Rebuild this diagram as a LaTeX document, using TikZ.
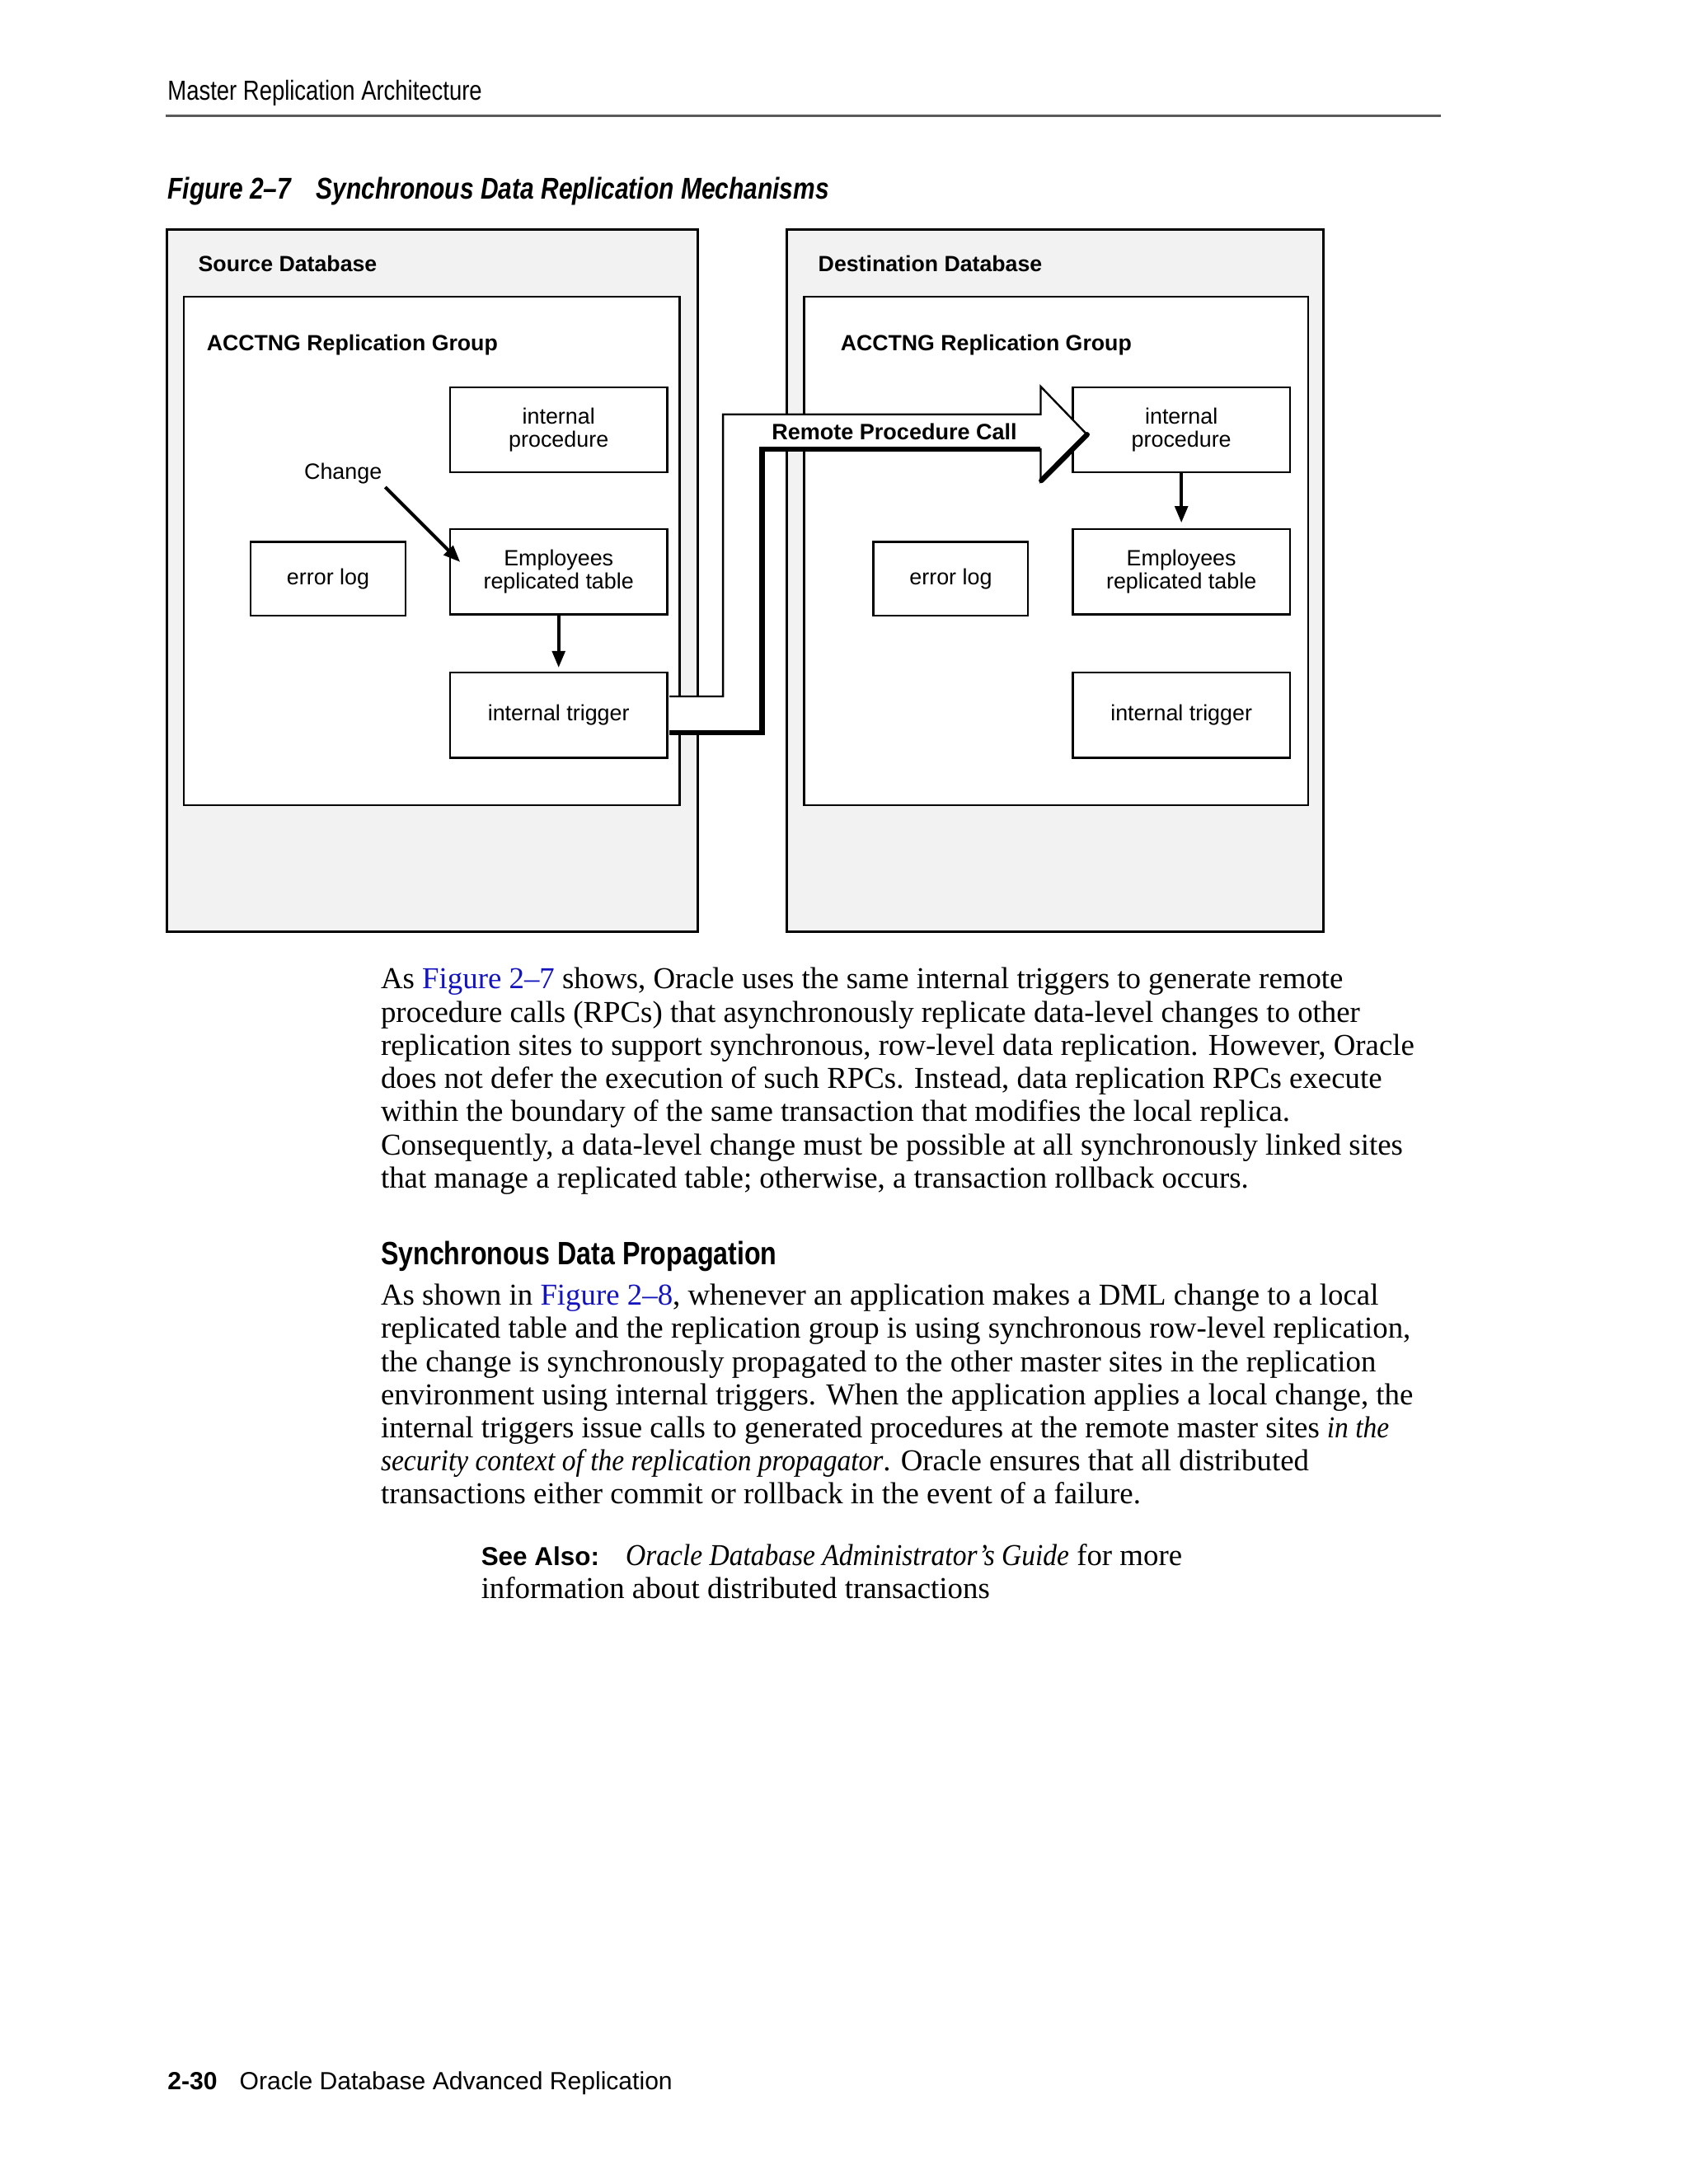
\documentclass[tikz,border=0pt]{standalone}
\usepackage{fontspec}
\setmainfont{Liberation Serif}[ItalicFeatures={FakeStretch=0.91}]
\setsansfont{Liberation Sans}
\newfontfamily\narrowsans[FakeStretch=0.82]{Liberation Sans}
\usetikzlibrary{arrows.meta,calc}
\definecolor{dbgray}{RGB}{242,242,242}
\definecolor{linkblue}{RGB}{20,20,190}
\definecolor{rulegray}{RGB}{90,90,90}

\begin{document}
\begin{tikzpicture}[x=0.5pt,y=-0.5pt,
  dbbox/.style={draw,line width=0.9pt,fill=dbgray},
  grpbox/.style={draw,line width=0.8pt,fill=white},
  objbox/.style={draw,line width=0.7pt,fill=white,inner sep=0pt,align=center,
    minimum width=78pt,minimum height=30.5pt,font=\sffamily\fontsize{7.95}{8.2}\selectfont},
  logbox/.style={objbox,minimum width=55.5pt,minimum height=26.5pt},
  dblabel/.style={anchor=base west,inner sep=0pt,font=\sffamily\bfseries\fontsize{7.9}{9.6}\selectfont},
  flowarrow/.style={line width=1.2pt,-{Triangle[length=6pt,width=4.6pt]}},
  rpcthin/.style={line width=0.7pt,line join=miter},
  rpcthick/.style={line width=1.9pt},
  bodytext/.style={anchor=base west,inner sep=0pt,align=left,font=\fontsize{10.9}{11.9}\selectfont}
]
% page frame
\fill[white] (0,0) rectangle (1212,1568);
\useasboundingbox (0,0) rectangle (1212,1568);

% Running head and rule
\node[anchor=base west,inner sep=0pt,font=\narrowsans\fontsize{9.9}{12}\selectfont] (runhead) at (120,72) {Master Replication Architecture};
\draw[rulegray,line width=0.8pt] (119,83) -- (1034,83);

% Figure caption
\node[anchor=base west,inner sep=0pt,font=\narrowsans\bfseries\itshape\fontsize{10.8}{13}\selectfont] (figcap) at (120,143) {Figure 2–7\hspace{9pt}Synchronous Data Replication Mechanisms};

% Drawing source database
\draw[dbbox] (120,165) rectangle (501,669);
\node[dblabel] (srcdb) at (142,195) {Source Database};
\draw[grpbox] (132,213) rectangle (488,578);
\node[dblabel] (srcgrp) at (148,252) {ACCTNG Replication Group};

% Drawing destination database
\draw[dbbox] (565,165) rectangle (950,669);
\node[dblabel] (dstdb) at (587,195) {Destination Database};
\draw[grpbox] (577,213) rectangle (939,578);
\node[dblabel] (dstgrp) at (603,252) {ACCTNG Replication Group};

% Objects of source group
\node[objbox] (srcproc) at (401,308.5) {internal\\procedure};
\node[logbox] (srcerr) at (235.5,415.5) {error log};
\node[objbox] (srcemp) at (401,410.5) {Employees\\replicated table};
\node[objbox] (srctrig) at (401,513.5) {internal trigger};

% Objects of destination group
\node[objbox] (dstproc) at (848,308.5) {internal\\procedure};
\node[logbox] (dsterr) at (682.5,415.5) {error log};
\node[objbox] (dstemp) at (848,410.5) {Employees\\replicated table};
\node[objbox] (dsttrig) at (848,513.5) {internal trigger};

% Change arrow
\node[anchor=base west,inner sep=1pt,font=\sffamily\fontsize{7.95}{9.6}\selectfont] (chg) at (216,344) {Change};
\draw[flowarrow] (chg.south east) -- ($(srcemp.west)+(4pt,3.5pt)$);

% Local flow arrows
\draw[flowarrow,shorten >=1.5pt] (srcemp) -- (srctrig);
\draw[flowarrow,shorten >=2pt] (dstproc) -- (dstemp);

% Drawing remote procedure call arrow
\coordinate (rpcA) at ($(srctrig.east)+(0.4pt,6.75pt)$);
\coordinate (rpcK) at ($(srctrig.east)+(0.4pt,-6.25pt)$);
\coordinate (rpctip) at ($(dstproc.west)+(5.5pt,-1.75pt)$);
\filldraw[fill=white,rpcthin] (rpcA) -- (519,500) -- (519,297.5) -- (747,297.5) -- (747,277.5)
  -- (rpctip) -- (747,345.5) -- (747,322.5) -- (547,322.5) -- (547,526) -- (rpcK);
\draw[rpcthick] (747,322.5) -- (547,322.5) -- (547,526) -- (rpcK);
\draw[rpcthick,line cap=round] (rpctip) -- (747.5,345);
\node[anchor=base,inner sep=0pt,font=\sffamily\bfseries\fontsize{8}{9.6}\selectfont] (rpclbl) at (642,315.5) {Remote Procedure Call};

% Body text (anchored at the last line)
\node[bodytext] (para1) at (273,852.8) {As \textcolor{linkblue}{Figure 2–7} shows, Oracle uses the same internal triggers to generate remote\\
procedure calls (RPCs) that asynchronously replicate data-level changes to other\\
replication sites to support synchronous, row-level data replication. However, Oracle\\
does not defer the execution of such RPCs. Instead, data replication RPCs execute\\
within the boundary of the same transaction that modifies the local replica.\\
Consequently, a data-level change must be possible at all synchronously linked sites\\
that manage a replicated table; otherwise, a transaction rollback occurs.};

\node[anchor=base west,inner sep=0pt,font=\narrowsans\bfseries\fontsize{11.6}{14}\selectfont] (sechead) at (273,908) {Synchronous Data Propagation};

\node[bodytext] (para2) at (273,1079.8) {As shown in \textcolor{linkblue}{Figure 2–8}, whenever an application makes a DML change to a local\\
replicated table and the replication group is using synchronous row-level replication,\\
the change is synchronously propagated to the other master sites in the replication\\
environment using internal triggers. When the application applies a local change, the\\
internal triggers issue calls to generated procedures at the remote master sites \textit{in the}\\
\textit{security context of the replication propagator}. Oracle ensures that all distributed\\
transactions either commit or rollback in the event of a failure.};

\node[bodytext] (seealso) at (345,1147.8) {{\sffamily\bfseries\fontsize{9.3}{11.9}\selectfont See Also:}\hspace{9.5pt}\textit{Oracle Database Administrator’s Guide} for more\\
information about distributed transactions};

% Page footer
\node[anchor=base west,inner sep=0pt,font=\sffamily\fontsize{8.9}{11}\selectfont] (pagefoot) at (120,1500) {\textbf{2-30}\hspace{8pt}Oracle Database Advanced Replication};
\end{tikzpicture}
\end{document}
